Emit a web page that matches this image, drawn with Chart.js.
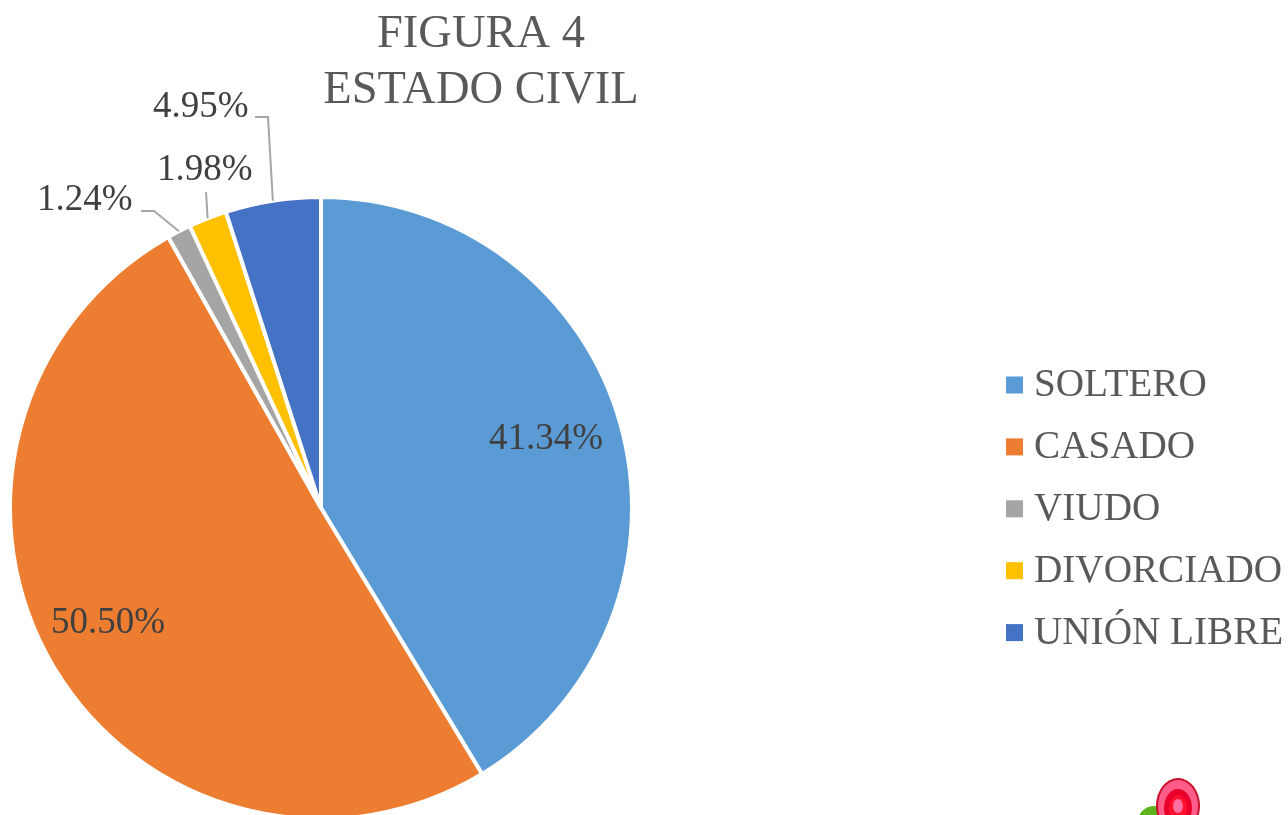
<!DOCTYPE html>
<html>
<head>
<meta charset="utf-8">
<title>Estado civil</title>
<script src="https://cdn.jsdelivr.net/npm/chart.js@4"></script>
<style>
  html, body { margin: 0; padding: 0; background: #fff; overflow: hidden; }
  canvas { display: block; }
</style>
</head>
<body>
<canvas id="pieChart" width="1288" height="830"></canvas>
<script>
let titleLines = ["FIGURA 4", "ESTADO CIVIL"];
let categories = ["SOLTERO", "CASADO", "VIUDO", "DIVORCIADO", "UNIÓN LIBRE"];
let percents = [41.34, 50.50, 1.24, 1.98, 4.95];
let colors = ["#5B9BD5", "#ED7D31", "#A5A5A5", "#FFC000", "#4472C4"];

// where each value label sits: left edge and baseline
let labelX = [489, 51, 37, 157, 153];
let labelY = [449, 633, 210, 180, 117];
// leader line points before reaching the slice, empty when the label is inside
let leaders = [[], [], [[141, 211], [154, 211]], [[206, 192]], [[255, 117], [268, 117]]];

let fontName = '"Liberation Serif", serif';

function drawFlower(ctx) {
  // small decoration in the bottom corner of the original
  let parts = [
    [1154, 824, 17, 18, "#5FB41E"],
    [1178, 806, 22, 28, "#C8102E"],
    [1178, 806, 20, 26, "#FF5C8A"],
    [1178, 808, 14, 19, "#E8002A"],
    [1178, 808, 9, 13, "#FF1030"],
    [1178, 806, 5, 7, "#FF6FA0"]
  ];
  for (let i = 0; i < parts.length; i++) {
    ctx.fillStyle = parts[i][4];
    ctx.beginPath();
    ctx.ellipse(parts[i][0], parts[i][1], parts[i][2], parts[i][3], 0, 0, Math.PI * 2);
    ctx.fill();
  }
}

let textPlugin = {
  id: "textPlugin",
  afterDraw(chart) {
    let ctx = chart.ctx;
    let arcs = chart.getDatasetMeta(0).data;
    ctx.save();

    // title
    ctx.fillStyle = "#595959";
    ctx.font = "46.5px " + fontName;
    ctx.textAlign = "center";
    ctx.textBaseline = "alphabetic";
    ctx.fillText(titleLines[0], 481, 47);
    ctx.fillText(titleLines[1], 481, 103);

    // legend
    ctx.textAlign = "left";
    ctx.font = "39.2px " + fontName;
    for (let i = 0; i < categories.length; i++) {
      let rowY = 385 + i * 61.9;
      ctx.fillStyle = colors[i];
      ctx.fillRect(1006, rowY - 8.5, 17, 17);
      ctx.fillStyle = "#595959";
      ctx.fillText(categories[i], 1034, rowY + 11);
    }

    // leader lines
    ctx.strokeStyle = "#A6A6A6";
    ctx.lineWidth = 2;
    for (let i = 0; i < leaders.length; i++) {
      if (leaders[i].length === 0) continue;
      let arc = arcs[i];
      let mid = (arc.startAngle + arc.endAngle) / 2;
      ctx.beginPath();
      ctx.moveTo(leaders[i][0][0], leaders[i][0][1]);
      for (let j = 1; j < leaders[i].length; j++) {
        ctx.lineTo(leaders[i][j][0], leaders[i][j][1]);
      }
      ctx.lineTo(arc.x + Math.cos(mid) * arc.outerRadius, arc.y + Math.sin(mid) * arc.outerRadius);
      ctx.stroke();
    }

    // value labels
    ctx.fillStyle = "#404040";
    ctx.font = "37px " + fontName;
    for (let i = 0; i < percents.length; i++) {
      ctx.fillText(percents[i].toFixed(2) + "%", labelX[i], labelY[i]);
    }

    drawFlower(ctx);
    ctx.restore();
  }
};

new Chart(document.getElementById("pieChart"), {
  type: "pie",
  data: {
    labels: categories,
    datasets: [{
      data: percents,
      backgroundColor: colors,
      borderColor: "#FFFFFF",
      borderWidth: 4
    }]
  },
  options: {
    responsive: false,
    animation: false,
    layout: { padding: { left: 8, top: 195, right: 654, bottom: 9 } },
    plugins: {
      legend: { display: false },
      title: { display: false },
      tooltip: { enabled: false }
    }
  },
  plugins: [textPlugin]
});
</script>
</body>
</html>
